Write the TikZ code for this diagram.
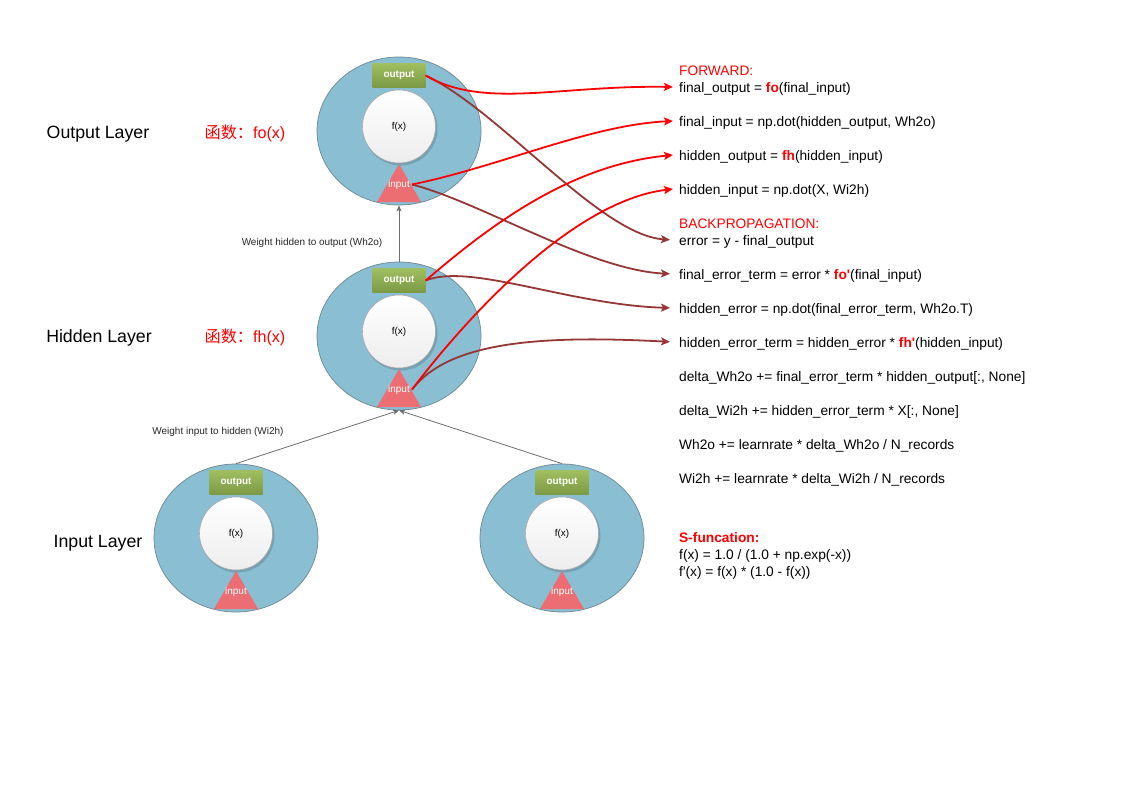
\documentclass[tikz,border=0pt]{standalone}
\usepackage{fontspec}
\setmainfont{Liberation Sans}
\newfontfamily\cjk{Noto Sans CJK SC}
\usetikzlibrary{arrows.meta,shapes.geometric}
\definecolor{nblue}{HTML}{8ABED2}
\definecolor{nborder}{HTML}{6D8791}
\definecolor{gtop}{HTML}{A0BF60}
\definecolor{gbot}{HTML}{7B9943}
\definecolor{tri}{HTML}{EC6E72}
\definecolor{dred}{HTML}{953735}
\definecolor{conn}{HTML}{6E6E6E}
\tikzset{
  outerell/.style={ellipse, draw=nborder, fill=nblue, line width=0.7bp, minimum width=164bp, minimum height=148bp, inner sep=0},
  outbox/.style={minimum width=53bp, minimum height=24bp, inner sep=0, top color=gtop, bottom color=gbot, text=white, font=\bfseries\fontsize{10}{12}\selectfont},
  fxcirc/.style={circle, draw=gray!70, line width=0.6bp, top color=white, bottom color=gray!14, minimum size=73bp, inner sep=0, font=\fontsize{10}{12}\selectfont},
  fxshadow/.style={circle, fill=black, opacity=0.15, minimum size=74bp, inner sep=0},
  intext/.style={text=white, inner sep=2bp, font=\fontsize{10}{12}\selectfont},
  layerlbl/.style={font=\fontsize{17.8}{20}\selectfont, inner sep=0},
  funclbl/.style={text=red, font=\fontsize{16.2}{19}\selectfont, inner sep=0},
  weightlbl/.style={text=black!85, font=\fontsize{10}{12}\selectfont, inner sep=0},
  code/.style={anchor=west, inner xsep=6bp, inner ysep=0, text height=11bp, text depth=0bp, font=\fontsize{13.8}{16}\selectfont},
  fwdarrow/.style={draw=red, line width=1.8bp, -{Stealth[length=9bp,width=8bp,inset=2bp]}},
  bckarrow/.style={draw=dred, line width=1.8bp, shorten >=3bp, -{Stealth[length=9bp,width=8bp,inset=2bp]}},
  weightconn/.style={draw=conn, line width=0.8bp, -{Stealth[length=6bp,width=5bp,inset=1.5bp]}}
}
\newcommand\mkneuron[3]{%
  \node[outerell] (#1) at (#2,#3) {};
  \node[outbox] (#1o) at (#2,#3-55.5) {output};
  \node[fxshadow] (#1s) at (#2+1.5,#3-2.5) {};
  \node[fxcirc] (#1f) at (#2,#3-4.5) {f(x)};
  \fill[tri] (#2-22,#3+71) -- (#2,#3+33) -- (#2+22,#3+71) -- cycle;
  \node[intext] (#1i) at (#2,#3+53.5) {input};
}
\newcommand\rtx[1]{\textbf{\textcolor{red}{#1}}}
\begin{document}
\begin{tikzpicture}[x=1bp,y=-1bp]
\useasboundingbox (0,0) rectangle (1123,794);
\fill[white] (0,0) rectangle (1123,794);

% neurons
\mkneuron{out}{399}{131}
\mkneuron{hid}{399}{336}
\mkneuron{inA}{236}{538}
\mkneuron{inB}{562}{538}

% weight connectors
\draw[weightconn] (hid.north) -- (out.south);
\draw[weightconn] (inA.north) -- (hid.south);
\draw[weightconn] (inB.north) -- (hid.south);
\node[weightlbl] (w1) at (312,242.5) {Weight hidden to output (Wh2o)};
\node[weightlbl] (w2) at (218,431.5) {Weight input to hidden (Wi2h)};

% layer labels
\node[layerlbl] (lo) at (98,134) {Output Layer};
\node[layerlbl] (lh) at (99,338) {Hidden Layer};
\node[layerlbl] (li) at (98,543) {Input Layer};
\node[funclbl] (fo) at (245,133.5) {{\cjk 函数：}fo(x)};
\node[funclbl] (fh) at (245,337.5) {{\cjk 函数：}fh(x)};

% code text
\node[code] (fwd) at (673,70) {\textcolor{red}{FORWARD:}};
\node[code] (l1) at (673,87) {final\_output = \rtx{fo}(final\_input)};
\node[code] (l2) at (673,121) {final\_input = np.dot(hidden\_output, Wh2o)};
\node[code] (l3) at (673,155) {hidden\_output = \rtx{fh}(hidden\_input)};
\node[code] (l4) at (673,189) {hidden\_input = np.dot(X, Wi2h)};
\node[code] (bp) at (673,223) {\textcolor{red}{BACKPROPAGATION:}};
\node[code] (l5) at (673,240) {error = y - final\_output};
\node[code] (l6) at (673,274) {final\_error\_term = error * \rtx{fo\textquotesingle}(final\_input)};
\node[code] (l7) at (673,308) {hidden\_error = np.dot(final\_error\_term, Wh2o.T)};
\node[code] (l8) at (673,342) {hidden\_error\_term = hidden\_error * \rtx{fh\textquotesingle}(hidden\_input)};
\node[code] (l9) at (673,376) {delta\_Wh2o += final\_error\_term * hidden\_output[:, None]};
\node[code] (l10) at (673,410) {delta\_Wi2h += hidden\_error\_term * X[:, None]};
\node[code] (l11) at (673,444) {Wh2o += learnrate * delta\_Wh2o / N\_records};
\node[code] (l12) at (673,478) {Wi2h += learnrate * delta\_Wi2h / N\_records};
\node[code] (sf) at (673,537) {\rtx{S-funcation:}};
\node[code] (sf1) at (673,554) {f(x) = 1.0 / (1.0 + np.exp(-x))};
\node[code] (sf2) at (673,571) {f\textquotesingle(x) = f(x) * (1.0 - f(x))};

% backward connectors
\draw[bckarrow] (outo.east) .. controls +(74,35) and +(-73,-5) .. (l5.west);
\draw[bckarrow] (outi.east) .. controls +(67,17) and +(-83,-4) .. (l6.west);
\draw[bckarrow] (hido.east) .. controls +(44,-18) and +(-103,-3) .. (l7.west);
\draw[bckarrow] (hidi.east) .. controls +(37,-48) and +(-133,-7) .. (l8.west);
% forward connectors
\draw[fwdarrow] (outo.east) .. controls +(58,34) and +(-113,-2) .. (l1.west);
\draw[fwdarrow] (outi.east) .. controls +(88,-18) and +(-83,4) .. (l2.west);
\draw[fwdarrow] (hido.east) .. controls +(64,-55) and +(-103,10) .. (l3.west);
\draw[fwdarrow] (hidi.east) .. controls +(67,-88) and +(-93,11) .. (l4.west);
\end{tikzpicture}
\end{document}
